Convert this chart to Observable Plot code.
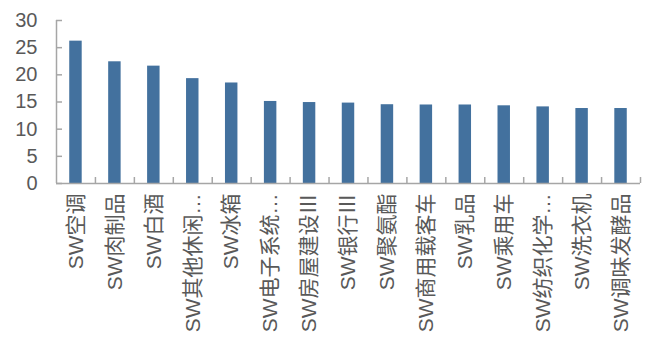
<!DOCTYPE html>
<html>
<head>
<meta charset="utf-8">
<script src="https://cdn.jsdelivr.net/npm/d3@7"></script>
<script src="https://cdn.jsdelivr.net/npm/@observablehq/plot@0.6"></script>
<style>
  html, body { margin: 0; padding: 0; background: #ffffff; }
  #chart { width: 648px; height: 338px; }
</style>
</head>
<body>
<div id="chart"></div>
<script>
const categories = ["SW空调", "SW肉制品", "SW白酒", "SW其他休闲…", "SW冰箱", "SW电子系统…", "SW房屋建设Ⅲ", "SW银行Ⅲ", "SW聚氨酯", "SW商用载客车", "SW乳品", "SW乘用车", "SW纺织化学…", "SW洗衣机", "SW调味发酵品"];
const values = [26.2, 22.4, 21.6, 19.3, 18.5, 15.1, 14.9, 14.8, 14.5, 14.45, 14.45, 14.3, 14.1, 13.8, 13.8];
const yTicks = [0, 5, 10, 15, 20, 25, 30];

const data = categories.map((name, i) => ({name, value: values[i]}));

const W = 648, H = 338, mL = 56, mR = 8, mT = 20, mB = 155;
const step = (W - mL - mR) / categories.length;
const axisColor = "#a6a6a6";
const textColor = "#595959";

const chart = Plot.plot({
  width: W,
  height: H,
  marginLeft: mL,
  marginRight: mR,
  marginTop: mT,
  marginBottom: mB,
  style: {
    fontFamily: "'Liberation Sans', Arial, 'Noto Sans CJK SC', sans-serif",
    fontSize: "20px",
    color: textColor,
    background: "#ffffff",
    overflow: "visible"
  },
  x: {domain: categories, paddingInner: 0.68, paddingOuter: 0.34, round: false, label: null},
  y: {domain: [0, 30], ticks: yTicks, label: null},
  marks: [
    Plot.barY(data, {x: "name", y: "value", fill: "#43719e"}),
    Plot.ruleY([0], {stroke: axisColor, strokeWidth: 1.5}),
    Plot.ruleX(categories.slice(0, 1), {x: d => d, dx: -step / 2, y1: 0, y2: 30, stroke: axisColor, strokeWidth: 1.5}),
    Plot.ruleX(categories, {x: d => d, dx: step / 2, y1: 0, y2: 1.1, stroke: axisColor, strokeWidth: 1.5}),
    Plot.axisY({ticks: yTicks, tickSize: -6, tickPadding: 25, stroke: axisColor, strokeWidth: 1.5, fill: textColor, fontSize: 20}),
    Plot.axisX({tickRotate: -90, tickSize: 0, tickPadding: 10, fill: textColor, fontSize: 21, textOverflow: null})
  ]
});
document.getElementById("chart").appendChild(chart);
</script>
</body>
</html>
